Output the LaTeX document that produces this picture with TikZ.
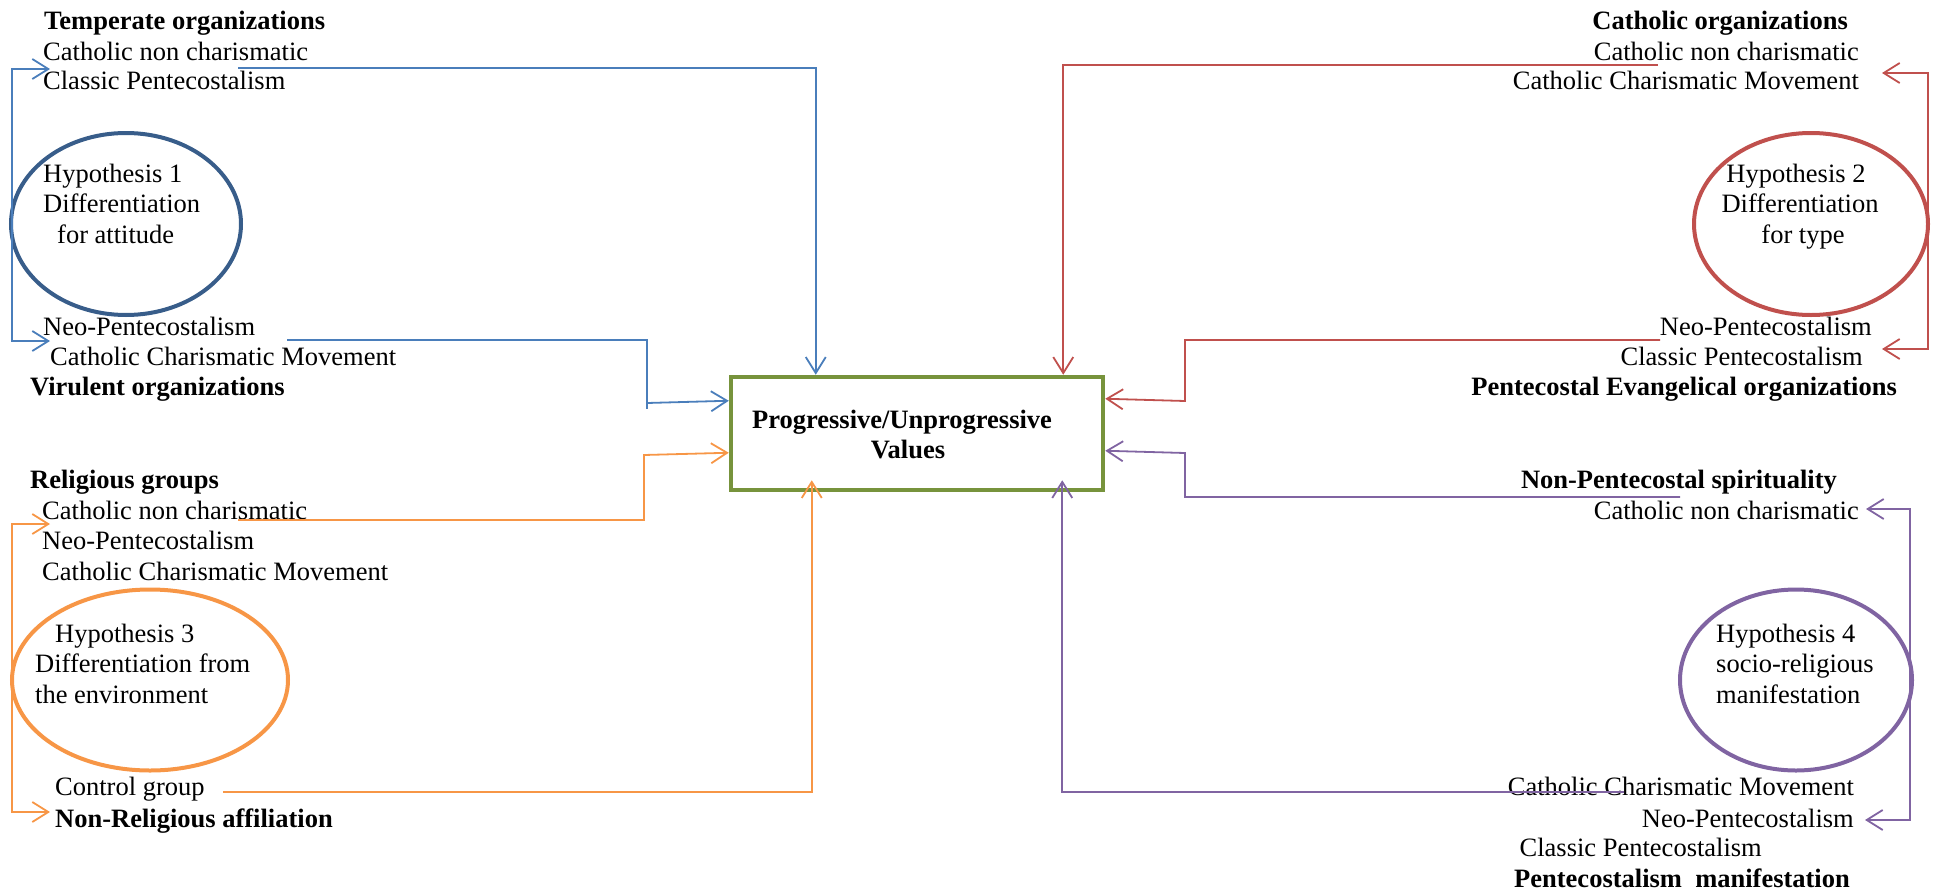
\documentclass[tikz,border=0pt]{standalone}
\usepackage{fontspec}
\setmainfont{Liberation Serif}
\usetikzlibrary{arrows.meta,shapes.geometric,calc}
\definecolor{cblue}{HTML}{4A7EBB}
\definecolor{cbluedk}{HTML}{385D8A}
\definecolor{cred}{HTML}{C0504D}
\definecolor{corange}{HTML}{F79646}
\definecolor{cpurple}{HTML}{8064A2}
\definecolor{cgreen}{HTML}{77933C}
\begin{document}
\begin{tikzpicture}[x=1pt,y=-1pt,
 txt/.style={inner sep=0pt,font=\fontsize{26.5}{30}\selectfont},
 lw/.style={txt,anchor=base west},
 le/.style={txt,anchor=base east},
 lc/.style={txt,anchor=base},
 conn/.style={line width=1.8pt},
 arr/.style={conn,-{Straight Barb[length=16pt,width=20pt]}},
 darr/.style={conn,{Straight Barb[length=16pt,width=20pt]}-{Straight Barb[length=16pt,width=20pt]}},
 hyp/.style={ellipse,draw,line width=4pt,inner sep=0pt}]

\useasboundingbox (0,0) rectangle (1933,894);

% central box
\node[draw=cgreen,line width=4.5pt,minimum width=372pt,minimum height=113pt,inner sep=0pt] (pv) at (917,433.5) {};
\node[lc] (pv1) at (902,428) {\textbf{Progressive/Unprogressive}};
\node[lc] (pv2) at (908,458) {\textbf{Values}};

% ---------- Hypothesis 1 (blue)
\node[lw] (t1) at (44,29) {\textbf{Temperate organizations}};
\node[lw] (t1a) at (43,60) {Catholic non charismatic};
\node[lw] (t1b) at (43,89) {Classic Pentecostalism};
\node[hyp,draw=cbluedk,minimum width=230pt,minimum height=182pt] (h1) at (126,224) {};
\node[lw] (h1a) at (43,182) {Hypothesis 1};
\node[lw] (h1b) at (43,212) {Differentiation};
\node[lw] (h1c) at (57,243) {for attitude};
\node[lw] (v1a) at (43,335) {Neo-Pentecostalism};
\node[lw] (v1b) at (50,365) {Catholic Charismatic Movement};
\node[lw] (v1) at (30,395) {\textbf{Virulent organizations}};
\coordinate (b1a) at (50,69);
\coordinate (b1b) at (50,341);
\draw[darr,cblue] (b1a) -- (12,69) -- (12,341) -- (b1b);
\coordinate (b1s) at (238,68);
\draw[arr,cblue] (b1s) -| ($(pv.north west)+(87,0)$);
\coordinate (b2s) at (287,340);
\coordinate (b2k) at (647,403);
\draw[arr,cblue] (b2s) -| (b2k) -- ($(pv.north west)+(0,26)$);
\draw[conn,cblue] (b2k) -- ++(0,6);

% ---------- Hypothesis 2 (red)
\node[le] (t2) at (1848,29) {\textbf{Catholic organizations}};
\node[le] (t2a) at (1859,60) {Catholic non charismatic};
\node[le] (t2b) at (1859,89) {Catholic Charismatic Movement};
\node[hyp,draw=cred,minimum width=234pt,minimum height=182pt] (h2) at (1811,224) {};
\node[lc] (h2a) at (1796,182) {Hypothesis 2};
\node[lc] (h2b) at (1800,212) {Differentiation};
\node[lc] (h2c) at (1803,243) {for type};
\node[le] (p2a) at (1872,335) {Neo-Pentecostalism};
\node[le] (p2b) at (1863,365) {Classic Pentecostalism};
\node[le] (p2) at (1897,395) {\textbf{Pentecostal Evangelical organizations}};
\coordinate (r1a) at (1882,73);
\coordinate (r1b) at (1882,349);
\draw[darr,cred] (r1a) -- (1928,73) -- (1928,349) -- (r1b);
\coordinate (r1s) at (1658,65);
\draw[arr,cred] (r1s) -| ($(pv.north east)+(-42,0)$);
\coordinate (r2s) at (1660,340);
\coordinate (r2k) at (1185,401);
\draw[arr,cred] (r2s) -| (r2k) -- ($(pv.north east)+(0,24)$);

% ---------- Hypothesis 3 (orange)
\node[lw] (t3) at (30,488) {\textbf{Religious groups}};
\node[lw] (t3a) at (42,519) {Catholic non charismatic};
\node[lw] (t3b) at (42,549) {Neo-Pentecostalism};
\node[lw] (t3c) at (42,580) {Catholic Charismatic Movement};
\node[hyp,draw=corange,minimum width=276pt,minimum height=181pt] (h3) at (150,680) {};
\node[lw] (h3a) at (55,642) {Hypothesis 3};
\node[lw] (h3b) at (35,672) {Differentiation from};
\node[lw] (h3c) at (35,703) {the environment};
\node[lw] (c3a) at (55,795) {Control group};
\node[lw] (c3) at (55,827) {\textbf{Non-Religious affiliation}};
\coordinate (o1a) at (50,524);
\coordinate (o1b) at (50,812);
\draw[darr,corange] (o1a) -- (12,524) -- (12,812) -- (o1b);
\coordinate (o1s) at (238,520);
\coordinate (o1k) at (644,455);
\draw[arr,corange] (o1s) -| (o1k) -- ($(pv.north west)+(0,78)$);
\coordinate (o2s) at (223,792);
\draw[arr,corange,shorten >=-12pt] (o2s) -| ($(pv.south west)+(83,0)$);

% ---------- Hypothesis 4 (purple)
\node[le] (t4) at (1837,488) {\textbf{Non-Pentecostal spirituality}};
\node[le] (t4a) at (1859,519) {Catholic non charismatic};
\node[hyp,draw=cpurple,minimum width=232pt,minimum height=181pt] (h4) at (1796,680) {};
\node[lw] (h4a) at (1716,642) {Hypothesis 4};
\node[lw] (h4b) at (1716,672) {socio-religious};
\node[lw] (h4c) at (1716,703) {manifestation};
\node[le] (m4a) at (1854,795) {Catholic Charismatic Movement};
\node[le] (m4b) at (1854,827) {Neo-Pentecostalism};
\node[le] (m4c) at (1762,856) {Classic Pentecostalism};
\node[le] (m4) at (1850,887) {\textbf{Pentecostalism\ \ manifestation}};
\coordinate (u1a) at (1866,509);
\coordinate (u1b) at (1865,820);
\draw[darr,cpurple] (u1a) -- (1910,509) -- (1910,820) -- (u1b);
\coordinate (u1s) at (1680,497);
\coordinate (u1k) at (1185,453);
\draw[arr,cpurple] (u1s) -| (u1k) -- ($(pv.north east)+(0,76)$);
\draw[conn,cpurple] (1185,497) -- ++(0,-4);
\coordinate (u2s) at (1624,792);
\draw[arr,cpurple,shorten >=-12pt] (u2s) -| ($(pv.south east)+(-43,0)$);
\end{tikzpicture}
\end{document}
